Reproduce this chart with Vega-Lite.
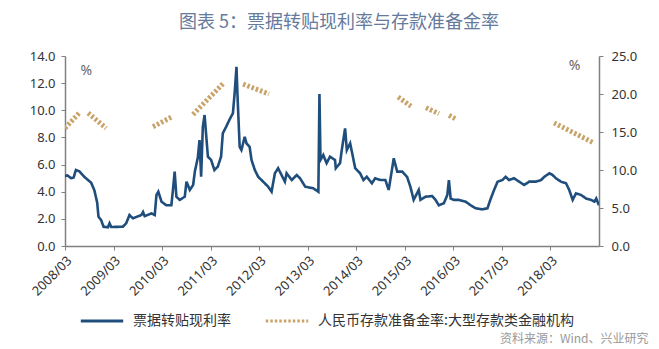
{
"$schema":"https://vega.github.io/schema/vega-lite/v6.json",
"width":534,"height":190,
"autosize":{"type":"none"},
"padding":{"left":65,"top":56,"right":60,"bottom":103},
"background":"white",
"title":{"text":"图表 5：票据转贴现利率与存款准备金率","font":"Noto Sans CJK SC","fontSize":18,"fontWeight":"normal","color":"#667a9c","anchor":"middle","frame":"group","offset":18,"dx":7},
"config":{"view":{"stroke":null},"axis":{"grid":false}},
"datasets":{
"rate":[
{"date":"2008-03-01","v":5.15,"series":"票据转贴现利率"},
{"date":"2008-03-20","v":5.2,"series":"票据转贴现利率"},
{"date":"2008-04-15","v":5.0,"series":"票据转贴现利率"},
{"date":"2008-05-05","v":5.05,"series":"票据转贴现利率"},
{"date":"2008-05-22","v":5.6,"series":"票据转贴现利率"},
{"date":"2008-06-17","v":5.5,"series":"票据转贴现利率"},
{"date":"2008-07-24","v":5.1,"series":"票据转贴现利率"},
{"date":"2008-09-14","v":4.66,"series":"票据转贴现利率"},
{"date":"2008-10-08","v":4.1,"series":"票据转贴现利率"},
{"date":"2008-10-29","v":3.2,"series":"票据转贴现利率"},
{"date":"2008-11-08","v":2.16,"series":"票据转贴现利率"},
{"date":"2008-11-28","v":1.9,"series":"票据转贴现利率"},
{"date":"2008-12-16","v":1.42,"series":"票据转贴现利率"},
{"date":"2009-01-18","v":1.38,"series":"票据转贴现利率"},
{"date":"2009-01-30","v":1.67,"series":"票据转贴现利率"},
{"date":"2009-02-12","v":1.4,"series":"票据转贴现利率"},
{"date":"2009-05-10","v":1.42,"series":"票据转贴现利率"},
{"date":"2009-06-04","v":1.67,"series":"票据转贴现利率"},
{"date":"2009-06-29","v":2.28,"series":"票据转贴现利率"},
{"date":"2009-07-25","v":2.04,"series":"票据转贴现利率"},
{"date":"2009-09-26","v":2.28,"series":"票据转贴现利率"},
{"date":"2009-10-09","v":2.5,"series":"票据转贴现利率"},
{"date":"2009-10-21","v":2.2,"series":"票据转贴现利率"},
{"date":"2009-12-11","v":2.4,"series":"票据转贴现利率"},
{"date":"2010-01-05","v":2.28,"series":"票据转贴现利率"},
{"date":"2010-01-18","v":3.76,"series":"票据转贴现利率"},
{"date":"2010-02-01","v":4.0,"series":"票据转贴现利率"},
{"date":"2010-02-25","v":3.27,"series":"票据转贴现利率"},
{"date":"2010-04-02","v":3.0,"series":"票据转贴现利率"},
{"date":"2010-05-10","v":3.0,"series":"票据转贴现利率"},
{"date":"2010-05-22","v":4.13,"series":"票据转贴现利率"},
{"date":"2010-06-04","v":5.48,"series":"票据转贴现利率"},
{"date":"2010-06-17","v":3.63,"series":"票据转贴现利率"},
{"date":"2010-07-12","v":3.4,"series":"票据转贴现利率"},
{"date":"2010-08-19","v":3.63,"series":"票据转贴现利率"},
{"date":"2010-09-01","v":4.74,"series":"票据转贴现利率"},
{"date":"2010-09-26","v":4.13,"series":"票据转贴现利率"},
{"date":"2010-10-21","v":4.5,"series":"票据转贴现利率"},
{"date":"2010-11-03","v":5.5,"series":"票据转贴现利率"},
{"date":"2010-11-25","v":6.5,"series":"票据转贴现利率"},
{"date":"2010-12-08","v":7.8,"series":"票据转贴现利率"},
{"date":"2010-12-20","v":5.1,"series":"票据转贴现利率"},
{"date":"2011-01-02","v":8.8,"series":"票据转贴现利率"},
{"date":"2011-01-15","v":9.65,"series":"票据转贴现利率"},
{"date":"2011-01-28","v":8.05,"series":"票据转贴现利率"},
{"date":"2011-02-09","v":6.58,"series":"票据转贴现利率"},
{"date":"2011-03-05","v":6.34,"series":"票据转贴现利率"},
{"date":"2011-03-30","v":5.6,"series":"票据转贴现利率"},
{"date":"2011-04-24","v":5.84,"series":"票据转贴现利率"},
{"date":"2011-05-19","v":6.58,"series":"票据转贴现利率"},
{"date":"2011-06-01","v":8.3,"series":"票据转贴现利率"},
{"date":"2011-06-27","v":8.8,"series":"票据转贴现利率"},
{"date":"2011-07-21","v":9.3,"series":"票据转贴现利率"},
{"date":"2011-08-16","v":9.78,"series":"票据转贴现利率"},
{"date":"2011-08-29","v":11.25,"series":"票据转贴现利率"},
{"date":"2011-09-12","v":13.2,"series":"票据转贴现利率"},
{"date":"2011-09-20","v":11.0,"series":"票据转贴现利率"},
{"date":"2011-10-06","v":7.3,"series":"票据转贴现利率"},
{"date":"2011-10-19","v":7.07,"series":"票据转贴现利率"},
{"date":"2011-11-13","v":8.05,"series":"票据转贴现利率"},
{"date":"2011-11-26","v":7.57,"series":"票据转贴现利率"},
{"date":"2011-12-20","v":7.3,"series":"票据转贴现利率"},
{"date":"2012-01-03","v":6.34,"series":"票据转贴现利率"},
{"date":"2012-01-28","v":5.6,"series":"票据转贴现利率"},
{"date":"2012-02-22","v":5.1,"series":"票据转贴现利率"},
{"date":"2012-03-18","v":4.86,"series":"票据转贴现利率"},
{"date":"2012-04-12","v":4.62,"series":"票据转贴现利率"},
{"date":"2012-05-07","v":4.37,"series":"票据转贴现利率"},
{"date":"2012-06-02","v":4.0,"series":"票据转贴现利率"},
{"date":"2012-06-27","v":5.36,"series":"票据转贴现利率"},
{"date":"2012-07-21","v":5.73,"series":"票据转贴现利率"},
{"date":"2012-08-16","v":5.23,"series":"票据转贴现利率"},
{"date":"2012-09-10","v":4.74,"series":"票据转贴现利率"},
{"date":"2012-09-23","v":5.36,"series":"票据转贴现利率"},
{"date":"2012-11-01","v":4.86,"series":"票据转贴现利率"},
{"date":"2012-12-08","v":5.23,"series":"票据转贴现利率"},
{"date":"2013-01-02","v":4.99,"series":"票据转贴现利率"},
{"date":"2013-02-10","v":4.37,"series":"票据转贴现利率"},
{"date":"2013-04-12","v":4.25,"series":"票据转贴现利率"},
{"date":"2013-05-20","v":4.0,"series":"票据转贴现利率"},
{"date":"2013-05-28","v":11.2,"series":"票据转贴现利率"},
{"date":"2013-06-05","v":6.34,"series":"票据转贴现利率"},
{"date":"2013-06-26","v":6.7,"series":"票据转贴现利率"},
{"date":"2013-07-21","v":6.1,"series":"票据转贴现利率"},
{"date":"2013-08-15","v":6.58,"series":"票据转贴现利率"},
{"date":"2013-09-22","v":6.34,"series":"票据转贴现利率"},
{"date":"2013-09-28","v":5.73,"series":"票据转贴现利率"},
{"date":"2013-10-30","v":6.1,"series":"票据转贴现利率"},
{"date":"2013-11-12","v":7.07,"series":"票据转贴现利率"},
{"date":"2013-12-07","v":8.67,"series":"票据转贴现利率"},
{"date":"2013-12-20","v":7.07,"series":"票据转贴现利率"},
{"date":"2014-01-14","v":7.57,"series":"票据转贴现利率"},
{"date":"2014-01-27","v":6.95,"series":"票据转贴现利率"},
{"date":"2014-02-21","v":5.73,"series":"票据转贴现利率"},
{"date":"2014-03-30","v":5.36,"series":"票据转贴现利率"},
{"date":"2014-04-24","v":4.86,"series":"票据转贴现利率"},
{"date":"2014-05-19","v":5.1,"series":"票据转贴现利率"},
{"date":"2014-06-27","v":4.62,"series":"票据转贴现利率"},
{"date":"2014-07-21","v":4.99,"series":"票据转贴现利率"},
{"date":"2014-08-29","v":4.86,"series":"票据转贴现利率"},
{"date":"2014-10-06","v":4.86,"series":"票据转贴现利率"},
{"date":"2014-10-31","v":4.13,"series":"票据转贴现利率"},
{"date":"2014-12-08","v":6.46,"series":"票据转贴现利率"},
{"date":"2015-01-03","v":5.48,"series":"票据转贴现利率"},
{"date":"2015-02-10","v":5.48,"series":"票据转贴现利率"},
{"date":"2015-03-18","v":5.1,"series":"票据转贴现利率"},
{"date":"2015-04-12","v":4.37,"series":"票据转贴现利率"},
{"date":"2015-05-07","v":3.4,"series":"票据转贴现利率"},
{"date":"2015-05-19","v":3.63,"series":"票据转贴现利率"},
{"date":"2015-06-14","v":4.13,"series":"票据转贴现利率"},
{"date":"2015-06-27","v":3.4,"series":"票据转贴现利率"},
{"date":"2015-08-03","v":3.63,"series":"票据转贴现利率"},
{"date":"2015-09-23","v":3.68,"series":"票据转贴现利率"},
{"date":"2015-10-18","v":3.4,"series":"票据转贴现利率"},
{"date":"2015-11-12","v":3.0,"series":"票据转贴现利率"},
{"date":"2015-12-20","v":3.15,"series":"票据转贴现利率"},
{"date":"2016-01-15","v":3.76,"series":"票据转贴现利率"},
{"date":"2016-01-27","v":4.86,"series":"票据转贴现利率"},
{"date":"2016-02-09","v":3.5,"series":"票据转贴现利率"},
{"date":"2016-03-04","v":3.4,"series":"票据转贴现利率"},
{"date":"2016-04-11","v":3.4,"series":"票据转贴现利率"},
{"date":"2016-06-01","v":3.27,"series":"票据转贴现利率"},
{"date":"2016-07-09","v":3.0,"series":"票据转贴现利率"},
{"date":"2016-08-16","v":2.78,"series":"票据转贴现利率"},
{"date":"2016-10-05","v":2.7,"series":"票据转贴现利率"},
{"date":"2016-11-12","v":2.78,"series":"票据转贴现利率"},
{"date":"2016-12-07","v":3.5,"series":"票据转贴现利率"},
{"date":"2017-01-01","v":4.13,"series":"票据转贴现利率"},
{"date":"2017-01-27","v":4.74,"series":"票据转贴现利率"},
{"date":"2017-03-04","v":4.86,"series":"票据转贴现利率"},
{"date":"2017-03-29","v":5.1,"series":"票据转贴现利率"},
{"date":"2017-04-23","v":4.86,"series":"票据转贴现利率"},
{"date":"2017-05-31","v":4.99,"series":"票据转贴现利率"},
{"date":"2017-07-08","v":4.74,"series":"票据转贴现利率"},
{"date":"2017-08-15","v":4.5,"series":"票据转贴现利率"},
{"date":"2017-09-22","v":4.74,"series":"票据转贴现利率"},
{"date":"2017-11-12","v":4.74,"series":"票据转贴现利率"},
{"date":"2017-12-20","v":4.86,"series":"票据转贴现利率"},
{"date":"2018-01-14","v":5.1,"series":"票据转贴现利率"},
{"date":"2018-02-21","v":5.36,"series":"票据转贴现利率"},
{"date":"2018-03-17","v":5.23,"series":"票据转贴现利率"},
{"date":"2018-04-11","v":4.99,"series":"票据转贴现利率"},
{"date":"2018-05-19","v":4.74,"series":"票据转贴现利率"},
{"date":"2018-06-26","v":4.62,"series":"票据转贴现利率"},
{"date":"2018-07-20","v":4.13,"series":"票据转贴现利率"},
{"date":"2018-08-15","v":3.4,"series":"票据转贴现利率"},
{"date":"2018-09-09","v":3.88,"series":"票据转贴现利率"},
{"date":"2018-10-17","v":3.76,"series":"票据转贴现利率"},
{"date":"2018-11-24","v":3.5,"series":"票据转贴现利率"},
{"date":"2019-01-01","v":3.4,"series":"票据转贴现利率"},
{"date":"2019-01-26","v":3.27,"series":"票据转贴现利率"},
{"date":"2019-02-08","v":3.5,"series":"票据转贴现利率"},
{"date":"2019-03-01","v":3.0,"series":"票据转贴现利率"}
],
"rrr":[
{"date":"2008-03-01","v":15.5,"seg":"a","series":"人民币存款准备金率:大型存款类金融机构"},
{"date":"2008-06-15","v":17.5,"seg":"a","series":"人民币存款准备金率:大型存款类金融机构"},
{"date":"2008-08-22","v":17.5,"seg":"b","series":"人民币存款准备金率:大型存款类金融机构"},
{"date":"2009-01-04","v":15.5,"seg":"b","series":"人民币存款准备金率:大型存款类金融机构"},
{"date":"2009-12-23","v":15.7,"seg":"c","series":"人民币存款准备金率:大型存款类金融机构"},
{"date":"2010-05-14","v":17.0,"seg":"c","series":"人民币存款准备金率:大型存款类金融机构"},
{"date":"2010-10-20","v":17.3,"seg":"d","series":"人民币存款准备金率:大型存款类金融机构"},
{"date":"2011-06-10","v":21.5,"seg":"d","series":"人民币存款准备金率:大型存款类金融机构"},
{"date":"2011-11-01","v":21.3,"seg":"e","series":"人民币存款准备金率:大型存款类金融机构"},
{"date":"2012-05-13","v":20.0,"seg":"e","series":"人民币存款准备金率:大型存款类金融机构"},
{"date":"2015-01-10","v":19.6,"seg":"f","series":"人民币存款准备金率:大型存款类金融机构"},
{"date":"2015-04-16","v":18.4,"seg":"f","series":"人民币存款准备金率:大型存款类金融机构"},
{"date":"2015-08-07","v":18.2,"seg":"g","series":"人民币存款准备金率:大型存款类金融机构"},
{"date":"2015-11-13","v":17.4,"seg":"g","series":"人民币存款准备金率:大型存款类金融机构"},
{"date":"2016-01-28","v":17.2,"seg":"h","series":"人民币存款准备金率:大型存款类金融机构"},
{"date":"2016-03-20","v":16.7,"seg":"h","series":"人民币存款准备金率:大型存款类金融机构"},
{"date":"2018-03-28","v":16.2,"seg":"i","series":"人民币存款准备金率:大型存款类金融机构"},
{"date":"2019-01-22","v":13.55,"seg":"i","series":"人民币存款准备金率:大型存款类金融机构"}
]
},
"encoding":{
"x":{"field":"date","type":"temporal",
 "scale":{"type":"utc","domain":[{"year":2008,"month":3,"date":1,"utc":true},{"year":2019,"month":3,"date":1,"utc":true}]},
 "axis":{"values":[{"year":2008,"month":3,"date":1,"utc":true},{"year":2009,"month":3,"date":1,"utc":true},{"year":2010,"month":3,"date":1,"utc":true},{"year":2011,"month":3,"date":1,"utc":true},{"year":2012,"month":3,"date":1,"utc":true},{"year":2013,"month":3,"date":1,"utc":true},{"year":2014,"month":3,"date":1,"utc":true},{"year":2015,"month":3,"date":1,"utc":true},{"year":2016,"month":3,"date":1,"utc":true},{"year":2017,"month":3,"date":1,"utc":true},{"year":2018,"month":3,"date":1,"utc":true}],
  "format":"%Y/%m","labelAngle":-45,"labelFont":"Noto Sans","labelFontSize":13,"labelColor":"#333333","labelPadding":4,
  "domainColor":"#808080","domainWidth":1.5,"tickColor":"#808080","tickSize":4,"labelOverlap":false,"labelBound":false,
  "title":"资料来源：Wind、兴业研究","titleX":583,"titleY":92,"titleAlign":"right","titleBaseline":"middle","titleAngle":0,
  "titleFont":"Noto Sans CJK SC","titleFontSize":12,"titleFontWeight":"normal","titleColor":"#999999"}},
"color":{"field":"series","type":"nominal",
 "scale":{"domain":["票据转贴现利率","人民币存款准备金率:大型存款类金融机构"],"range":["#1f4d7c","#c9a46a"]},
 "legend":{"title":null,"orient":"none","legendX":14,"legendY":242,"direction":"horizontal","symbolType":"stroke","symbolSize":1800,"symbolStrokeWidth":3,"labelFont":"Noto Sans CJK SC","labelFontSize":14,"labelColor":"#333333","labelOffset":8,"columnPadding":28,"labelLimit":400}},
"strokeDash":{"field":"series","type":"nominal",
 "scale":{"domain":["票据转贴现利率","人民币存款准备金率:大型存款类金融机构"],"range":[[1,0],[2.5,2]]},
 "legend":{"title":null,"orient":"none","legendX":14,"legendY":242,"direction":"horizontal","symbolType":"stroke","symbolSize":1800,"symbolStrokeWidth":3,"labelFont":"Noto Sans CJK SC","labelFontSize":14,"labelColor":"#333333","labelOffset":8,"columnPadding":28,"labelLimit":400}}
},
"layer":[
{"data":{"name":"rate"},
 "mark":{"type":"line","strokeWidth":2.6,"clip":true},
 "encoding":{"y":{"field":"v","type":"quantitative","scale":{"domain":[0,14],"nice":false},
  "axis":{"orient":"left","values":[0,2,4,6,8,10,12,14],"format":".1f","labelFont":"Noto Sans","labelFontSize":13,"labelColor":"#333333","labelPadding":6,
   "domainColor":"#808080","domainWidth":1.5,"tickColor":"#808080","tickSize":4,
   "title":"%","titleAngle":0,"titleX":15,"titleY":14,"titleAlign":"left","titleBaseline":"middle","titleFont":"Noto Sans","titleFontSize":14,"titleFontWeight":"normal","titleColor":"#666666"}}}},
{"data":{"name":"rrr"},
 "mark":{"type":"line","strokeWidth":5,"clip":true,"strokeCap":"butt"},
 "encoding":{"detail":{"field":"seg"},
  "y":{"field":"v","type":"quantitative","scale":{"domain":[0,25],"nice":false},
  "axis":{"orient":"right","values":[0,5,10,15,20,25],"format":".1f","labelFont":"Noto Sans","labelFontSize":13,"labelColor":"#333333","labelPadding":8,
   "domainColor":"#808080","domainWidth":1.5,"tickColor":"#808080","tickSize":4,
   "title":"%","titleAngle":0,"titleX":-19,"titleY":9,"titleAlign":"right","titleBaseline":"middle","titleFont":"Noto Sans","titleFontSize":14,"titleFontWeight":"normal","titleColor":"#666666"}}}}
],
"resolve":{"scale":{"y":"independent"}}
}
